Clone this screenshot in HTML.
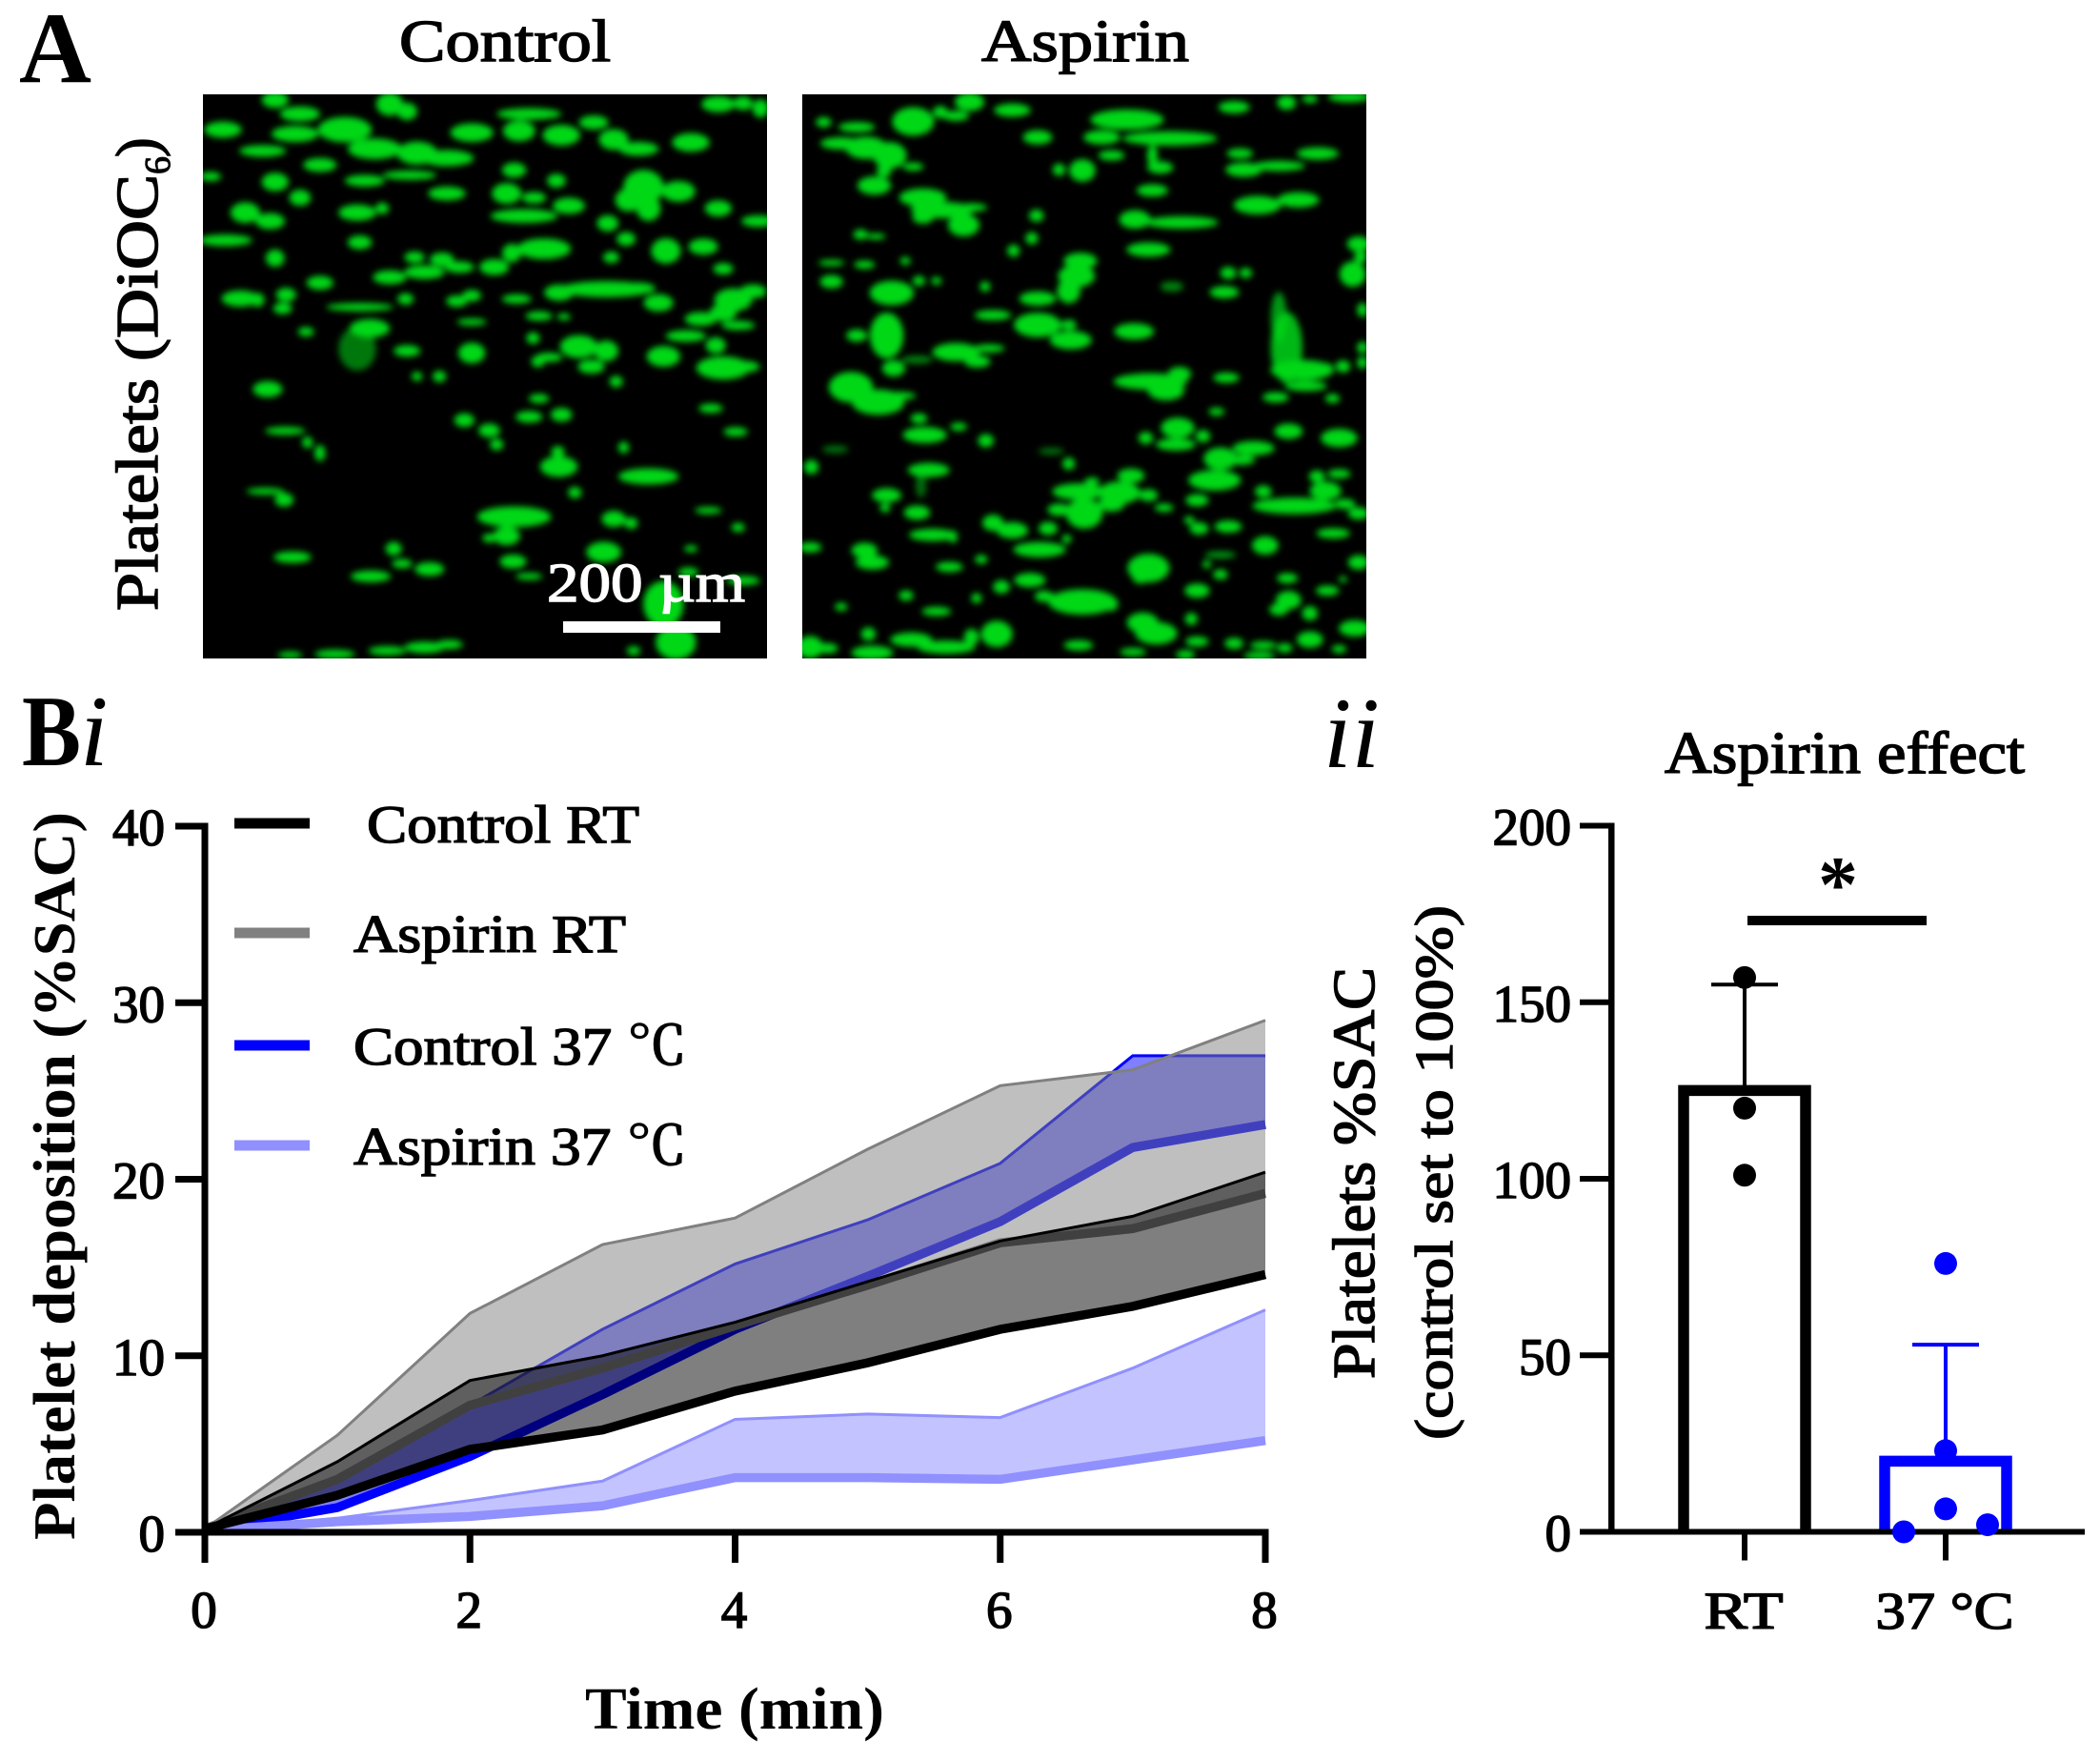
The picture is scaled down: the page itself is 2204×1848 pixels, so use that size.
<!DOCTYPE html>
<html lang="en">
<head>
<meta charset="utf-8">
<title>Platelet deposition figure</title>
<style>
html,body{margin:0;padding:0;background:#fff;width:2204px;height:1848px;overflow:hidden}
svg{display:block}
text{font-family:"Liberation Serif","Noto Serif CJK SC",serif;fill:#000}
.lbl{font-size:56px;stroke:#000;stroke-width:1.4px}
.ttl{font-size:62px;stroke:#000;stroke-width:1.5px}
.tick{font-size:55px;stroke:#000;stroke-width:1.5px}
.big{font-size:106px;font-weight:bold}
</style>
</head>
<body>
<svg id="fig" xmlns="http://www.w3.org/2000/svg" width="2204" height="1848" viewBox="0 0 2204 1848">
  <defs>
    <filter id="soft" x="-5%" y="-5%" width="110%" height="110%"><feGaussianBlur stdDeviation="3.5"/></filter>
    <clipPath id="clipC"><rect x="213" y="99" width="592" height="592"/></clipPath>
    <clipPath id="clipA"><rect x="842" y="99" width="592" height="592"/></clipPath>
  </defs>

  <text class="big" x="20" y="86" textLength="76" lengthAdjust="spacingAndGlyphs">A</text>
  <text class="ttl" x="419" y="64" textLength="222" lengthAdjust="spacingAndGlyphs">Control</text>
  <text class="ttl" x="1030" y="64" textLength="218" lengthAdjust="spacingAndGlyphs">Aspirin</text>

  <text class="ttl" transform="translate(165,641) rotate(-90)" textLength="458" lengthAdjust="spacingAndGlyphs">Platelets (DiOC</text>
  <text transform="translate(178,183) rotate(-90)" font-size="38" style="stroke:#000;stroke-width:1px">6</text>
  <text class="ttl" transform="translate(165,165) rotate(-90)">)</text>

  <g>
    <rect x="213" y="99" width="592" height="592" fill="#000"/>
    <g clip-path="url(#clipC)"><g id="blobsC" filter="url(#soft)"></g></g>
    <text x="574" y="631" font-size="58" textLength="208" lengthAdjust="spacingAndGlyphs" style="fill:#fff;stroke:#fff;stroke-width:1.4px">200 µm</text>
    <rect x="591" y="652" width="165" height="12" fill="#fff"/>
  </g>
  <g>
    <rect x="842" y="99" width="592" height="592" fill="#000"/>
    <g clip-path="url(#clipA)"><g id="blobsA" filter="url(#soft)"></g></g>
  </g>

  <text class="big" x="23" y="803" textLength="62" lengthAdjust="spacingAndGlyphs">B</text>
  <text x="84" y="803" font-size="106" font-style="italic">i</text>
  <text x="1389" y="805" font-size="106" font-style="italic">ii</text>

  <g id="lineChart"></g>
  <text class="ttl" style="font-weight:bold;stroke-width:0" transform="translate(78,1616) rotate(-90)" textLength="764" lengthAdjust="spacingAndGlyphs">Platelet deposition (%SAC)</text>
  <text class="ttl" style="font-weight:bold;stroke-width:0" x="614" y="1814" textLength="314" lengthAdjust="spacingAndGlyphs">Time (min)</text>

  <g id="barChart"></g>
  <text class="ttl" x="1747" y="811" textLength="378" lengthAdjust="spacingAndGlyphs">Aspirin effect</text>
  <text class="ttl" transform="translate(1442,1447) rotate(-90)" textLength="432" lengthAdjust="spacingAndGlyphs">Platelets %SAC</text>
  <text class="lbl" transform="translate(1524,1511) rotate(-90)" textLength="561" lengthAdjust="spacingAndGlyphs">(control set to 100%)</text>
  <rect x="1834" y="961" width="188" height="10" fill="#000"/>
  <text x="1929" y="956" font-size="84" font-weight="bold" text-anchor="middle">*</text>
</svg>

<script>
// ---- line chart data ----
const timePoints = [0, 1, 2, 3, 4, 5, 6, 7, 8];
const xTickValues = [0, 2, 4, 6, 8];
const yTickValues = [0, 10, 20, 30, 40];
const control37Upper = [0.1, 2.9, 7.2, 11.5, 15.2, 17.7, 20.9, 27.0, 27.0];
const control37Mean = [0.1, 1.4, 4.3, 7.8, 11.5, 14.5, 17.6, 21.8, 23.1];
const aspirin37Upper = [0.1, 0.8, 1.8, 2.9, 6.4, 6.7, 6.5, 9.3, 12.6];
const aspirin37Mean = [0.1, 0.6, 0.9, 1.5, 3.1, 3.1, 3.0, 4.1, 5.2];
const aspirinRtUpper = [0.2, 5.5, 12.4, 16.3, 17.8, 21.7, 25.3, 26.2, 29.0];
const aspirinRtMean = [0.2, 3.0, 7.2, 9.3, 11.7, 14.0, 16.4, 17.2, 19.2];
const controlRtUpper = [0.2, 4.0, 8.6, 10.0, 11.9, 14.2, 16.5, 17.9, 20.4];
const controlRtMean = [0.2, 2.1, 4.7, 5.8, 8.0, 9.6, 11.5, 12.8, 14.6];
const legendLabels = ["Control RT", "Aspirin RT", "Control 37 ℃", "Aspirin 37 ℃"];

// ---- bar chart data ----
const barCategories = ["RT", "37 °C"];
const barMeans = [125, 20];
const barErrorTops = [155, 53];
const rtPoints = [157, 120, 101];
const warmPoints = [76, 23, 6.5, 0, 2];
const warmPointSlots = [0, 0, 0, -1, 1];
const barTickValues = [0, 50, 100, 150, 200];

const NS = "http://www.w3.org/2000/svg";
function mk(parent, tag, attrs, txt) {
  const e = document.createElementNS(NS, tag);
  for (const k in attrs) e.setAttribute(k, attrs[k]);
  if (txt !== undefined) e.textContent = txt;
  parent.appendChild(e);
  return e;
}

// ---- line chart ----
const lineG = document.getElementById("lineChart");
const xL = t => 215 + (t / 8) * 1113;
const yL = v => 1608 - (v / 40) * 741;
function pts(vals) { return vals.map((v, i) => xL(timePoints[i]) + "," + yL(v)).join(" "); }
function drawSeries(name, upper, mean, fill, fillAlpha, edge, thick) {
  const band = mk(lineG, "polygon", {
    points: pts(upper) + " " + mean.map((v, i) => xL(timePoints[i]) + "," + yL(v)).reverse().join(" "),
    fill: fill, "fill-opacity": fillAlpha
  });
  
  
  const up = mk(lineG, "polyline", { points: pts(upper), fill: "none", stroke: edge, "stroke-width": 3 });
  
  
  const m = mk(lineG, "polyline", { points: pts(mean), fill: "none", stroke: thick, "stroke-width": 9.5 });
  
  
}
drawSeries("control-37", control37Upper, control37Mean, "#0000ff", 0.5, "#0000ff", "#0000ff");
drawSeries("aspirin-37", aspirin37Upper, aspirin37Mean, "#8888ff", 0.5, "#9090ff", "#9090ff");
drawSeries("aspirin-rt", aspirinRtUpper, aspirinRtMean, "#808080", 0.5, "#808080", "#808080");
drawSeries("control-rt", controlRtUpper, controlRtMean, "#000000", 0.5, "#000000", "#000000");

const lineYAxis = mk(lineG, "rect", { x: 211.5, y: yL(40) - 3.5, width: 7, height: yL(0) - yL(40) + 7, fill: "#000" });


const lineXAxis = mk(lineG, "rect", { x: 211.5, y: yL(0) - 3.5, width: xL(8) - 211.5 + 3.5, height: 7, fill: "#000" });


yTickValues.forEach(v => {
  const t = mk(lineG, "rect", { x: 184, y: yL(v) - 3.5, width: 31, height: 7, fill: "#000" });
  
  
  const l = mk(lineG, "text", { x: 173, y: yL(v) + 20, "text-anchor": "end", class: "tick" }, String(v));
  
  
});
xTickValues.forEach(v => {
  const t = mk(lineG, "rect", { x: xL(v) - 3.5, y: yL(0), width: 7, height: 32, fill: "#000" });
  
  
  const l = mk(lineG, "text", { x: xL(v) - 1, y: 1708, "text-anchor": "middle", class: "tick" }, String(v));
  
  
});

// legend
const legendColors = ["#000000", "#808080", "#0000ff", "#9090ff"];
const legendRows = [864, 979, 1097, 1202];
const legendBase = [884, 999, 1117, 1222];
const legendX = [385, 371, 371, 371];
const legendW = [286, 286, 350, 350];
legendLabels.forEach((lab, i) => {
  const sw = mk(lineG, "rect", { x: 246, y: legendRows[i] - 5.5, width: 79, height: 11, fill: legendColors[i] });
  
  
  const tx = mk(lineG, "text", { x: legendX[i], y: legendBase[i], class: "lbl", textLength: legendW[i], lengthAdjust: "spacingAndGlyphs" }, lab);
  
  
});

// ---- bar chart ----
const barG = document.getElementById("barChart");
const yB = v => 1607.5 - (v / 200) * 741;
const xB = i => 1831 + i * 211;
const barColors = ["#000000", "#0000ff"];
barCategories.forEach((c, i) => {
  const cx = xB(i);
  const eb = mk(barG, "rect", { x: cx - 2, y: yB(barErrorTops[i]), width: 4, height: yB(barMeans[i]) - yB(barErrorTops[i]), fill: barColors[i] });
  
  
  const cap = mk(barG, "rect", { x: cx - 35, y: yB(barErrorTops[i]) - 2, width: 70, height: 4, fill: barColors[i] });
  
  
  const barPts = (cx - 64) + "," + yB(0) + " " + (cx - 64) + "," + yB(barMeans[i]) + " " + (cx + 64) + "," + yB(barMeans[i]) + " " + (cx + 64) + "," + yB(0);
  const bar = mk(barG, "polyline", { points: barPts, fill: "none", stroke: barColors[i], "stroke-width": 11.5 });
  
  
  const tk = mk(barG, "rect", { x: cx - 3, y: yB(0), width: 6, height: 30, fill: "#000" });
  
  
  const lb = mk(barG, "text", { x: cx - 1, y: 1709, "text-anchor": "middle", class: "tick", textLength: i === 0 ? 83 : 145, lengthAdjust: "spacingAndGlyphs" }, c);
  
  
});
const barYAxis = mk(barG, "rect", { x: 1688, y: yB(200) - 3, width: 6.5, height: yB(0) - yB(200) + 6, fill: "#000" });


const barXAxis = mk(barG, "rect", { x: 1658, y: yB(0) - 3, width: 530, height: 6, fill: "#000" });


barTickValues.forEach(v => {
  const t = mk(barG, "rect", { x: 1658, y: yB(v) - 3, width: 32, height: 6, fill: "#000" });
  
  
  const l = mk(barG, "text", { x: 1649, y: yB(v) + 20, "text-anchor": "end", class: "tick" }, String(v));
  
  
});
rtPoints.forEach(v => {
  const d = mk(barG, "circle", { cx: xB(0), cy: yB(v), r: 12, fill: "#000" });
  
  
});
warmPoints.forEach((v, i) => {
  const d = mk(barG, "circle", { cx: xB(1) + warmPointSlots[i] * 44, cy: yB(v), r: 12, fill: "#0000ff" });
  
  
});

// ---- micrographs (blobs given in panel-local units) ----
const blobsControl = [[445,305,28,14],[550,235,20,14],[780,245,20,20],[815,262,15,15],[600,268,30,13],[690,305,40,22],[590,315,35,14],[945,312,32,16],[1040,308,24,18],[1125,318,28,18],[1060,268,48,10],[1190,288,22,12],[1385,335,28,16],[1230,328,22,18],[1280,350,30,12],[1440,245,25,14],[1490,243,14,12],[1525,255,12,16],[750,350,40,18],[835,360,30,20],[895,372,40,14],[525,355,35,10],[640,388,25,12],[1030,400,18,13],[1115,425,14,12],[550,428,20,16],[600,465,16,14],[420,415,16,8],[730,425,30,10],[820,412,40,8],[895,455,28,12],[1015,455,22,18],[1070,465,18,10],[1140,484,24,14],[1290,440,30,30],[1260,470,20,20],[1300,490,18,22],[1360,450,25,18],[1440,490,20,14],[490,500,22,18],[540,520,22,14],[715,500,28,14],[765,490,10,10],[1050,508,50,12],[1218,525,16,14],[1520,520,25,10],[1255,562,14,12],[1410,580,22,14],[1335,590,22,22],[450,565,40,10],[550,607,14,15],[720,570,18,12],[1090,585,40,18],[1025,595,14,16],[830,605,15,10],[885,610,18,12],[920,628,22,10],[990,628,22,14],[850,640,30,12],[780,652,25,12],[1225,605,12,10],[1450,632,15,10],[640,665,20,12],[572,693,15,12],[480,702,28,14],[515,705,10,12],[565,725,14,10],[1120,688,22,14],[1215,680,70,14],[1280,678,25,10],[1320,712,22,15],[1470,705,28,20],[1510,685,20,12],[1450,735,20,15],[720,722,50,7],[812,703,12,10],[915,708,16,10],[945,695,14,10],[1035,703,22,8],[1080,743,20,8],[1130,745,10,6],[945,757,22,6],[740,772,30,16],[715,820,28,38,.55],[612,780,12,8],[1405,750,24,12],[1375,790,30,10],[1480,765,25,8],[1435,812,15,14],[815,825,20,10],[945,830,20,18],[1160,815,28,20],[1215,825,18,18],[1068,795,10,10],[1185,862,20,12],[1100,840,20,8],[1078,850,10,10],[1330,838,25,18],[1450,865,40,20],[1490,862,25,10],[1235,897,10,10],[880,885,10,10],[835,885,8,8],[535,915,22,14],[1080,937,15,8],[1060,980,20,10],[1125,975,16,12],[930,988,15,12],[980,1012,16,12],[995,1045,10,10],[1425,960,18,8],[1475,1015,18,8],[570,1013,30,7],[615,1040,8,10],[640,1065,8,14],[1118,1062,10,10],[1120,1097,28,18],[1300,1120,45,14],[1152,1158,10,10],[1250,1052,8,10],[530,1155,28,6],[568,1175,14,12],[1030,1215,55,18],[1230,1220,18,14],[1265,1230,10,10],[1015,1260,20,16],[1420,1200,20,6],[1480,1240,10,8],[980,1265,10,8],[585,1310,28,10],[788,1290,12,12],[805,1325,15,8],[860,1338,22,12],[742,1355,30,10],[1028,1320,20,12],[1210,1298,26,18],[1060,1355,20,6],[1330,1420,30,40],[1355,1510,30,30],[1490,1365,25,8],[1385,1290,10,6],[1380,1345,15,8],[850,1522,30,10],[775,1530,28,8],[900,1515,20,8],[670,1538,30,8],[580,1540,18,6],[1270,1530,10,8]];
const blobsAspirin = [[485,68,28,18],[595,90,35,13],[340,120,40,28],[410,95,14,12],[450,105,25,10],[110,122,15,10],[195,135,35,10],[155,178,40,12],[220,190,40,22],[280,210,32,26],[340,240,20,8],[265,252,14,12],[240,290,32,18],[660,162,28,14],[825,162,35,14],[890,115,70,20],[1000,165,90,14],[955,210,10,20],[975,242,25,12],[775,250,25,22],[715,248,12,12],[850,210,25,10],[1165,82,30,12],[1300,70,18,14],[1360,60,15,8],[1460,55,40,10],[1180,205,25,10],[1190,248,35,14],[1280,238,50,10],[1380,205,40,12],[955,303,30,12],[1225,342,45,18],[1330,328,40,15],[365,322,45,18],[415,355,60,16],[365,375,20,12],[470,395,30,22],[490,348,30,8],[910,380,30,18],[1030,388,70,12],[657,370,14,12],[645,430,12,12],[598,463,12,12],[945,460,42,14],[770,490,32,16],[760,530,35,22],[740,570,22,24],[205,420,14,10],[245,425,18,6],[130,495,25,6],[215,500,20,8],[320,490,10,8],[130,545,22,13],[285,575,42,24],[355,543,12,10],[400,543,10,8],[525,558,10,10],[660,590,35,14],[545,634,35,10],[272,688,32,45],[195,688,20,12],[660,660,45,24],[745,700,40,18],[740,660,15,10],[908,677,38,16],[1005,558,22,10,.6],[1140,573,28,12],[1150,522,15,12],[1195,522,12,10],[450,732,45,18],[535,722,30,8],[505,757,25,12],[350,752,30,8,.6],[290,775,22,16],[180,825,42,30],[250,865,50,25],[300,848,35,8],[950,810,70,16],[990,833,35,20],[1025,790,22,14],[1145,800,25,10],[1280,640,15,50,.7],[1300,720,30,70,.85],[1340,780,60,20],[1350,822,40,10],[1400,775,15,10],[1445,770,14,12],[1485,445,22,15],[1490,480,12,12],[1470,525,25,25],[1495,620,10,14],[1495,720,10,12],[1495,760,10,12],[1272,852,25,10],[1418,855,14,9],[1120,890,15,8],[355,908,16,10],[370,952,42,16],[457,930,16,8],[527,967,15,13],[1020,933,32,20],[1015,977,38,12],[938,960,14,12],[1085,955,14,12],[1305,942,27,15],[1435,960,35,18],[1215,987,40,14],[1130,1015,32,22],[1185,1018,25,10],[140,990,25,8,.5],[695,995,25,7,.5],[740,1028,12,12],[78,1037,14,14],[380,1045,40,14],[360,1085,10,25,.5],[900,1060,26,14],[1115,1072,50,20],[765,1102,50,16],[870,1105,40,22],[850,1135,25,15],[800,1075,14,8],[945,1112,18,12],[1240,1102,16,12],[1070,1125,22,12],[1378,1062,15,12],[1435,1055,22,9],[1400,1100,30,18],[272,1112,28,14],[268,1145,10,9],[780,1160,35,30],[715,1150,22,12],[350,1158,25,14],[1320,1140,80,16],[1450,1135,20,10],[1485,1160,20,12],[985,1145,18,8],[545,1185,20,16],[595,1205,30,16],[687,1200,18,13],[1150,1195,26,12],[1075,1200,18,12],[1050,1178,10,8],[390,1217,45,12],[442,1222,9,12],[1420,1213,32,10],[735,1228,9,9],[665,1256,50,15],[1245,1245,25,18],[75,1250,22,10],[215,1258,25,15],[235,1290,32,14],[515,1282,12,9],[433,1302,26,10],[945,1305,40,28],[925,1330,16,12],[1130,1270,30,7,.7],[1130,1322,14,10],[1095,1295,8,8],[1485,1290,20,14],[640,1337,30,14],[567,1355,16,13],[1302,1332,20,10],[1070,1365,24,14],[1405,1365,22,10],[1445,1335,8,6],[322,1378,14,10],[400,1420,28,9],[503,1385,10,10],[677,1380,18,11],[775,1395,65,25],[848,1400,14,14],[1305,1390,24,18],[1280,1415,18,12],[1360,1425,15,14],[155,1408,12,8],[930,1450,30,20],[965,1478,40,22],[1055,1440,12,12],[1070,1500,22,10],[1475,1465,30,16],[225,1480,14,13],[335,1495,40,14],[425,1515,55,13],[490,1488,14,16],[555,1480,30,26],[75,1515,25,22],[120,1518,20,10],[235,1530,40,14],[765,1510,28,10],[1165,1505,18,11],[1360,1495,25,16],[1240,1510,25,8],[1295,1517,15,9],[1230,1538,30,8],[905,1528,25,8],[1040,1535,18,9],[1435,1520,14,8]];
const blobGrow = 1.35;
function paintBlobs(id, list, ox, oy, sw, sh, px, py) {
  const host = document.getElementById(id);
  const sx = 592 / sw, sy = 592 / sh;
  list.forEach(b => {
    const e = mk(host, "ellipse", {
      cx: px + (b[0] - ox) * sx, cy: py + (b[1] - oy) * sy,
      rx: b[2] * sx * blobGrow, ry: b[3] * sy * blobGrow,
      fill: "#00d818", "fill-opacity": b[4] === undefined ? 1 : b[4]
    });
    
    
  });
}
paintBlobs("blobsC", blobsControl, 405, 222, 1133, 1326, 213, 99);
paintBlobs("blobsA", blobsAspirin, 55, 48, 1450, 1497, 842, 99);
</script>
</body>
</html>
